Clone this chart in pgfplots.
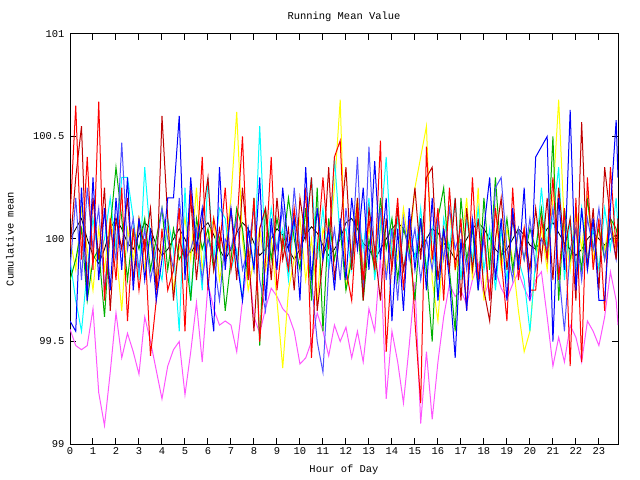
\documentclass[border=0pt]{standalone}
\usepackage{pgfplots}
\usepackage{pgfplotstable}
\pgfplotsset{compat=1.18}
\usepackage{fontspec}
\setmainfont{Liberation Mono}
\definecolor{cred}{HTML}{FF0000}
\definecolor{cdred}{HTML}{C00000}
\definecolor{cblue}{HTML}{0000FF}
\definecolor{csblue}{HTML}{5050FF}
\definecolor{cgreen}{HTML}{00B000}
\definecolor{ccyan}{HTML}{00FFFF}
\definecolor{cyellow}{HTML}{FFFF00}
\definecolor{cmag}{HTML}{FF55FF}
\pgfplotstableread{
h red dred blue sblue green cyan yellow black mag
0.00 100.10 99.95 99.60 99.85 99.80 99.90 100.00 100.00 99.56
0.25 100.65 100.30 99.55 100.20 99.90 99.70 99.85 100.05 99.48
0.50 99.90 100.55 100.25 99.80 100.05 99.55 100.15 100.10 99.46
0.75 100.40 99.75 99.70 100.25 99.70 99.85 99.95 100.00 99.48
1.00 99.85 100.20 100.30 99.95 99.90 100.10 99.75 99.92 99.66
1.25 100.67 99.90 99.80 100.15 99.95 99.90 100.05 99.88 99.25
1.50 99.70 100.25 100.15 99.75 99.62 100.00 99.85 99.95 99.09
1.75 100.10 99.65 99.75 100.05 100.05 100.20 100.10 100.05 99.35
2.00 99.80 100.10 100.20 99.90 100.35 99.95 99.95 100.10 99.64
2.25 100.25 99.95 99.85 100.47 100.10 100.30 99.65 100.05 99.42
2.50 99.60 100.20 100.30 99.95 99.80 100.30 100.05 99.98 99.54
2.75 100.05 99.80 99.75 100.10 100.05 100.10 99.90 99.95 99.45
3.00 99.75 100.10 100.10 99.85 99.95 99.80 100.10 100.02 99.34
3.25 100.00 99.95 99.80 100.05 100.10 100.35 99.85 100.08 99.62
3.50 99.43 100.15 100.05 99.80 99.85 100.00 100.00 100.05 99.50
3.75 99.70 99.75 99.70 99.95 100.00 99.90 99.80 99.97 99.36
4.00 100.05 100.60 99.90 100.15 100.15 99.80 99.95 99.92 99.22
4.25 99.75 100.10 100.20 100.00 99.85 100.10 100.05 99.95 99.38
4.50 99.85 99.70 100.20 99.85 100.05 99.95 99.75 100.00 99.46
4.75 100.15 100.00 100.60 100.20 99.90 99.55 99.95 100.05 99.50
5.00 99.55 99.90 99.80 99.90 99.95 100.25 100.10 100.00 99.24
5.25 100.25 100.20 100.30 99.95 99.70 99.70 99.90 99.93 99.45
5.50 99.90 99.80 99.95 100.05 100.10 100.05 100.25 99.98 99.69
5.75 100.40 100.10 100.15 99.80 99.95 99.75 99.85 100.05 99.40
6.00 99.75 100.30 99.80 100.00 100.05 100.30 100.00 100.08 99.78
6.25 100.10 99.85 99.55 99.90 99.85 99.90 100.10 100.02 99.66
6.50 99.95 100.05 100.35 99.70 100.00 100.15 99.80 99.95 99.58
6.75 100.25 99.90 99.85 100.00 99.65 100.10 99.95 99.90 99.60
7.00 99.85 100.15 100.15 99.95 99.90 99.85 100.20 99.95 99.58
7.25 100.05 99.80 99.90 100.10 100.15 99.95 100.62 100.03 99.45
7.50 100.50 100.25 99.70 99.85 100.05 99.70 100.00 100.08 99.70
7.75 99.80 99.95 100.05 99.95 99.80 100.05 99.75 100.05 99.90
8.00 100.20 99.55 99.85 100.15 100.20 99.85 99.90 99.98 99.62
8.25 99.50 100.05 100.30 99.80 99.48 100.55 100.05 99.92 99.54
8.50 99.90 100.15 99.70 99.65 100.15 99.90 99.85 99.95 99.66
8.75 100.40 99.80 100.10 100.05 99.90 100.15 100.00 100.00 99.76
9.00 99.75 100.20 99.85 99.95 100.10 99.95 99.70 100.05 99.72
9.25 100.00 99.90 100.25 100.15 99.95 100.05 99.37 100.02 99.66
9.50 99.85 100.05 99.95 99.85 100.20 99.80 99.75 99.95 99.63
9.75 100.15 99.75 100.10 100.25 100.00 100.10 99.90 99.90 99.55
10.00 99.90 100.20 99.70 99.95 99.85 99.95 100.10 99.95 99.39
10.25 100.25 100.00 100.35 100.05 100.15 100.05 99.80 100.02 99.42
10.50 99.42 100.30 99.80 99.80 99.70 100.30 100.00 100.06 99.50
10.75 99.95 99.65 100.15 99.50 100.25 99.90 99.70 100.03 99.64
11.00 100.30 99.90 99.90 99.35 99.55 100.15 100.05 99.97 99.55
11.25 99.95 100.35 100.05 99.85 100.10 99.85 99.95 99.92 99.43
11.50 100.40 99.80 99.75 100.05 99.90 100.40 100.25 99.95 99.58
11.75 100.48 100.05 100.10 99.80 100.05 100.00 100.68 100.00 99.50
12.00 99.85 100.35 99.80 100.15 99.75 100.05 99.75 100.08 99.57
12.25 99.70 99.85 100.20 99.90 99.90 99.85 99.95 100.10 99.42
12.50 100.15 100.20 99.95 100.40 100.10 100.15 100.20 100.05 99.55
12.75 99.80 99.70 100.25 99.75 99.70 99.95 99.85 99.98 99.40
13.00 100.10 100.15 99.85 100.45 100.00 100.20 100.05 99.95 99.66
13.25 99.85 99.95 100.38 99.90 99.85 99.80 99.90 99.90 99.55
13.50 100.48 99.70 99.90 100.15 100.20 100.05 100.10 99.95 99.92
13.75 99.45 100.10 100.20 99.80 99.95 100.40 99.85 100.00 99.22
14.00 99.90 99.85 99.60 100.05 100.10 99.90 100.00 100.05 99.55
14.25 100.20 100.15 100.05 99.70 99.80 100.10 99.90 100.08 99.40
14.50 99.75 99.85 99.65 100.10 100.05 99.85 100.15 100.05 99.20
14.75 100.10 100.00 100.15 99.90 99.95 100.05 99.95 99.98 99.48
15.00 99.60 100.25 99.85 100.05 99.70 99.90 100.25 99.92 99.79
15.25 99.20 99.90 100.10 99.80 100.10 100.15 100.40 99.95 99.10
15.50 100.45 100.30 99.75 100.00 99.85 99.85 100.55 100.00 99.45
15.75 99.90 100.35 100.20 99.85 99.50 100.05 99.80 100.05 99.12
16.00 100.15 99.80 99.70 100.10 100.10 99.70 99.60 100.03 99.40
16.25 99.70 100.05 100.05 99.90 100.25 100.10 100.00 99.98 99.62
16.50 100.25 99.85 99.80 100.15 99.85 99.95 100.15 99.95 99.78
16.75 99.85 100.20 99.42 99.95 99.55 100.20 99.85 99.90 99.72
17.00 100.10 99.70 100.00 100.05 100.20 99.80 99.95 99.95 99.75
17.25 99.65 100.15 99.65 99.85 99.90 100.10 100.20 100.00 99.68
17.50 100.30 99.85 100.10 100.10 100.05 99.90 99.80 100.05 99.80
17.75 99.80 100.10 99.75 99.80 99.75 100.15 100.25 100.08 99.88
18.00 100.05 99.75 100.05 100.00 100.20 99.85 99.70 100.05 99.72
18.25 99.70 99.60 100.30 99.70 99.85 100.05 99.95 100.00 99.80
18.50 100.15 100.00 99.80 100.25 100.30 99.75 100.15 99.95 99.85
18.75 99.90 100.20 100.10 100.30 99.90 100.05 99.85 99.92 99.76
19.00 99.60 99.85 99.70 99.95 100.10 99.80 100.05 99.95 99.71
19.25 100.25 100.10 100.15 99.80 99.85 100.10 99.90 100.00 99.78
19.50 99.80 99.90 99.85 100.05 100.05 99.90 99.65 100.05 99.84
19.75 100.05 100.05 100.25 99.90 99.90 99.80 99.45 100.02 99.76
20.00 99.75 99.85 99.70 100.10 100.05 99.55 99.55 99.97 99.70
20.25 99.75 100.15 100.40 99.85 99.95 99.90 99.90 99.95 99.80
20.50 100.10 99.90 100.45 100.00 100.15 100.25 100.05 100.00 99.84
20.75 99.90 100.20 100.50 99.95 99.90 99.95 99.85 100.05 99.62
21.00 100.30 99.80 99.50 100.15 100.50 100.10 100.20 100.08 99.38
21.25 99.80 100.25 100.20 99.85 99.70 100.35 100.68 100.03 99.52
21.50 100.15 99.95 99.85 99.55 100.15 99.80 100.05 99.98 99.40
21.75 99.38 100.10 100.63 99.95 99.90 100.10 99.85 99.95 99.58
22.00 100.20 99.70 99.75 100.05 100.05 99.85 100.15 99.92 99.52
22.25 99.40 100.57 100.15 99.80 99.85 100.15 99.95 99.95 99.40
22.50 100.30 99.85 99.85 100.10 100.20 99.90 100.20 100.00 99.60
22.75 99.85 100.15 100.10 99.95 99.95 100.05 99.90 100.03 99.55
23.00 100.10 99.75 99.70 100.15 100.05 99.85 100.05 100.00 99.48
23.25 99.65 100.35 99.70 99.90 99.90 100.15 99.95 99.97 99.62
23.50 100.35 100.10 100.15 100.05 100.10 99.95 100.10 100.00 99.84
23.75 99.95 99.90 100.58 99.90 100.05 100.20 99.95 100.02 99.70
23.83 100.05 100.10 100.30 100.00 100.00 100.05 100.00 100.00 99.58
}\data
\begin{document}
\begin{tikzpicture}
\path[use as bounding box] (0,0) rectangle (640bp,480bp);
\begin{axis}[
  at={(70bp,36bp)}, anchor=south west,
  scale only axis, width=548bp, height=410bp,
  xmin=0, xmax=23.83, ymin=99, ymax=101,
  clip mode=individual,
  xtick={0,1,...,23},
  ytick={99,99.5,100,100.5,101},
  yticklabels={99,99.5,100,100.5,101},
  tick align=inside, major tick length=6bp,
  tick style={black, line width=1bp},
  axis line style={line width=1bp},
  /pgf/number format/assume math mode=true,
  tick label style={font=\fontsize{10.5}{12}\selectfont},
  label style={font=\fontsize{10.5}{12}\selectfont},
  xlabel={Hour of Day},
  ylabel={Cumulative mean},
  xlabel style={at={(axis description cs:0.5,-0.0634)}, anchor=center},
  ylabel style={at={(axis description cs:-0.1095,0.5)}, anchor=center, rotate=0},
  yticklabel style={xshift=-2bp},
  every axis plot/.append style={line width=1bp, sharp plot, mark=none},
]
\addplot[black, line width=0.8bp] table[x=h, y=black] {\data};
\addplot[cmag] table[x=h, y=mag] {\data};
\addplot[cyellow] table[x=h, y=yellow] {\data};
\addplot[ccyan] table[x=h, y=cyan] {\data};
\addplot[cgreen] table[x=h, y=green] {\data};
\addplot[csblue] table[x=h, y=sblue] {\data};
\addplot[cdred] table[x=h, y=dred] {\data};
\addplot[cred] table[x=h, y=red] {\data};
\addplot[cblue] table[x=h, y=blue] {\data};
\node[font=\fontsize{10.5}{12}\selectfont, anchor=center] at (rel axis cs:0.5,1.0415) {Running Mean Value};
\end{axis}
\end{tikzpicture}
\end{document}
